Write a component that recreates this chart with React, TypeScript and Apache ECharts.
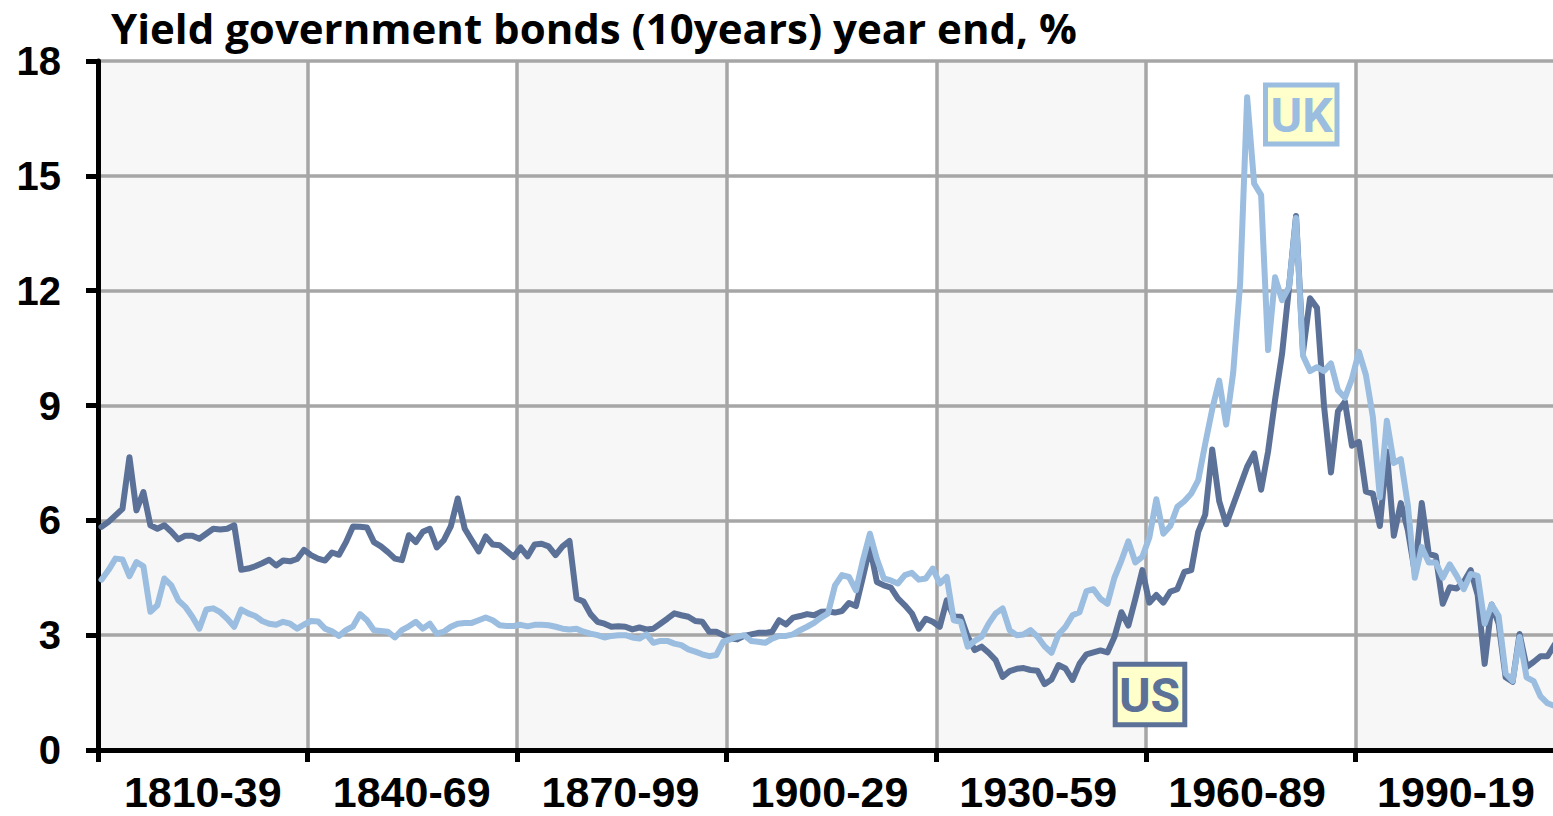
import React, { useEffect, useRef } from "react";
import * as echarts from "echarts";

// Year-end 10-year government bond yields, %, one value per year from 1810 to 2018
const startYear = 1810;

const usYields = [
  5.83, 5.96, 6.13, 6.3, 7.65, 6.26, 6.74, 5.87, 5.78, 5.87,
  5.7, 5.5, 5.6, 5.6, 5.52, 5.65, 5.78, 5.76, 5.78, 5.87,
  4.71, 4.74, 4.8, 4.88, 4.97, 4.82, 4.95, 4.93, 4.99, 5.23,
  5.09, 5.0, 4.95, 5.16, 5.1, 5.43, 5.84, 5.83, 5.81, 5.43,
  5.32, 5.17, 5.0, 4.96, 5.61, 5.43, 5.7, 5.78, 5.29, 5.48,
  5.84, 6.57, 5.78, 5.48, 5.19, 5.58, 5.37, 5.35, 5.2, 5.04,
  5.29, 5.06, 5.37, 5.39, 5.32, 5.09, 5.32, 5.46, 3.96, 3.88,
  3.55, 3.35, 3.3, 3.22, 3.23, 3.22, 3.15, 3.2, 3.15, 3.17,
  3.3, 3.43, 3.57, 3.52, 3.48, 3.37, 3.35, 3.09, 3.09, 3.0,
  2.91, 2.89, 2.98, 3.02, 3.06, 3.06, 3.09, 3.39, 3.28, 3.46,
  3.5, 3.55, 3.52, 3.61, 3.62, 3.59, 3.63, 3.84, 3.76, 4.52,
  5.3, 4.39, 4.3, 4.24, 3.96, 3.78, 3.57, 3.17, 3.43, 3.35,
  3.22, 3.91, 3.48, 3.48, 2.96, 2.61, 2.7, 2.54, 2.35, 1.91,
  2.06, 2.12, 2.14, 2.09, 2.07, 1.72, 1.84, 2.22, 2.13, 1.83,
  2.25, 2.5, 2.55, 2.6, 2.55, 2.95, 3.6, 3.25, 3.95, 4.7,
  3.85, 4.05, 3.85, 4.14, 4.2, 4.65, 4.7, 5.7, 6.15, 7.85,
  6.5, 5.9, 6.4, 6.9, 7.4, 7.75, 6.8, 7.8, 9.15, 10.35,
  12.1, 13.95, 10.4, 11.8, 11.55, 9.0, 7.25, 8.85, 9.1, 7.95,
  8.05, 6.75, 6.7, 5.85, 7.8, 5.6, 6.45, 5.75, 4.65, 6.45,
  5.12, 5.07, 3.82, 4.25, 4.22, 4.39, 4.7, 4.05, 2.25, 3.8,
  3.3, 1.9, 1.78, 3.03, 2.17, 2.3, 2.45, 2.45, 2.75,
];

const ukYields = [
  4.45, 4.7, 5.0, 4.98, 4.54, 4.91, 4.8, 3.61, 3.78, 4.48,
  4.3, 3.91, 3.74, 3.48, 3.17, 3.67, 3.7, 3.6, 3.43, 3.22,
  3.67, 3.57, 3.5, 3.37, 3.3, 3.27, 3.35, 3.3, 3.17, 3.28,
  3.37, 3.36, 3.17, 3.1, 2.98, 3.13, 3.23, 3.55, 3.39, 3.13,
  3.11, 3.09, 2.94, 3.13, 3.23, 3.35, 3.17, 3.3, 3.04, 3.09,
  3.22, 3.3, 3.32, 3.32, 3.39, 3.46, 3.39, 3.26, 3.24, 3.24,
  3.27, 3.23, 3.27, 3.27, 3.26, 3.22, 3.17, 3.15, 3.17, 3.09,
  3.04, 3.0, 2.94, 2.98, 3.0, 3.0, 2.94, 2.91, 3.02, 2.8,
  2.85, 2.85, 2.78, 2.74, 2.63, 2.57, 2.5, 2.45, 2.48, 2.83,
  2.89, 2.96, 3.0, 2.85, 2.83, 2.8, 2.91, 2.98, 2.98, 3.02,
  3.13, 3.22, 3.32, 3.46, 3.57, 4.3, 4.57, 4.52, 4.17, 4.96,
  5.65, 4.99, 4.48, 4.43, 4.35, 4.57, 4.63, 4.45, 4.48, 4.74,
  4.35, 4.52, 3.39, 3.35, 2.7, 2.85, 2.96, 3.3, 3.57, 3.7,
  3.13, 3.0, 3.02, 3.13, 2.96, 2.71, 2.54, 3.02, 3.22, 3.52,
  3.6, 4.15, 4.2, 3.95, 3.82, 4.5, 4.95, 5.45, 4.9, 5.05,
  5.55, 6.55, 5.65, 5.85, 6.35, 6.5, 6.7, 7.05, 8.0, 8.9,
  9.65, 8.5, 9.85, 12.2, 17.05, 14.8, 14.5, 10.45, 12.35, 11.75,
  12.1, 13.9, 10.3, 9.9, 10.0, 9.9, 10.1, 9.4, 9.2, 9.7,
  10.4, 9.8, 8.7, 6.6, 8.6, 7.5, 7.6, 6.4, 4.5, 5.3,
  4.9, 4.9, 4.5, 4.85, 4.55, 4.2, 4.6, 4.55, 3.3, 3.8,
  3.5, 2.0, 1.8, 2.95, 1.9, 1.8, 1.4, 1.22, 1.15,
];

// 30-year block labels on the category axis
const blockLabels = ["1810-39", "1840-69", "1870-99", "1900-29", "1930-59", "1960-89", "1990-19"];
const blockLabelPositions = [15, 44.9, 74.8, 104.7, 134.6, 164.5, 194.4];

const seriesNames = ["US", "UK"];
const US_COLOR = "#5B7197";
const UK_COLOR = "#9ABDE0";

export default function App() {
  const ref = useRef<HTMLDivElement>(null);

  useEffect(() => {
    if (!ref.current) return;
    const chart = echarts.init(ref.current, undefined, { renderer: "svg" });
    const yearCount = usYields.length;
    const toPoints = (arr: number[]) => arr.map((v, j) => [j + 0.5, v]);

    const option: any = {
      animation: false,
      backgroundColor: "#ffffff",
      title: {
        text: "Yield government bonds (10years) year end, %",
        left: 106,
        top: 1,
        textStyle: {
          fontFamily: "Open Sans",
          fontWeight: "bold",
          fontSize: 42,
          color: "#000000",
        },
      },
      grid: { left: 98, top: 61, width: 1460, height: 689, containLabel: false },
      xAxis: {
        type: "value",
        min: 0,
        max: yearCount,
        interval: 30,
        z: 0,
        axisLine: { show: true, onZero: false, lineStyle: { color: "#000000", width: 5 } },
        axisTick: { show: true, length: 12, lineStyle: { color: "#000000", width: 5 } },
        axisLabel: {
          customValues: blockLabelPositions,
          formatter: (v: number) => {
            const k = Math.round((v - 15) / 30);
            return blockLabels[k] ?? "";
          },
          fontFamily: "Liberation Sans",
          fontWeight: "bold",
          fontSize: 43,
          lineHeight: 36,
          color: "#000000",
          margin: 24,
        },
        splitLine: { show: true, lineStyle: { color: "#A6A6A6", width: 3.5 } },
        splitArea: { show: true, areaStyle: { color: ["#F7F7F7", "#FFFFFF"] } },
      },
      yAxis: {
        type: "value",
        min: 0,
        max: 18,
        interval: 3,
        z: 1,
        axisLine: { show: true, lineStyle: { color: "#000000", width: 5 } },
        axisTick: { show: true, length: 12, lineStyle: { color: "#000000", width: 5 } },
        axisLabel: {
          fontFamily: "Liberation Sans",
          fontWeight: "bold",
          fontSize: 40,
          color: "#000000",
          margin: 37,
        },
        splitLine: { show: true, showMinLine: false, lineStyle: { color: "#A6A6A6", width: 3.5 } },
      },
      series: [
        {
          name: seriesNames[0],
          type: "line",
          data: toPoints(usYields),
          symbol: "none",
          lineStyle: { color: US_COLOR, width: 6, join: "round", cap: "round" },
          z: 3,
        },
        {
          name: seriesNames[1],
          type: "line",
          data: toPoints(ukYields),
          symbol: "none",
          lineStyle: { color: UK_COLOR, width: 6, join: "round", cap: "round" },
          z: 4,
        },
      ],
      graphic: [
        {
          type: "rect",
          shape: { x: 1265.5, y: 85, width: 71.5, height: 59 },
          style: { fill: "#FFFFCC", stroke: UK_COLOR, lineWidth: 5 },
          z: 100,
        },
        {
          type: "text",
          x: 1301.7,
          y: 115,
          style: {
            text: seriesNames[1],
            fill: UK_COLOR,
            font: 'bold 48px Roboto, "Liberation Sans", sans-serif',
            textAlign: "center",
            textVerticalAlign: "middle",
          },
          z: 101,
        },
        {
          type: "rect",
          shape: { x: 1115.2, y: 664.2, width: 69.6, height: 60.6 },
          style: { fill: "#FFFFCC", stroke: US_COLOR, lineWidth: 5 },
          z: 100,
        },
        {
          type: "text",
          x: 1149.5,
          y: 695.5,
          style: {
            text: seriesNames[0],
            fill: US_COLOR,
            font: 'bold 48px Roboto, "Liberation Sans", sans-serif',
            textAlign: "center",
            textVerticalAlign: "middle",
          },
          z: 101,
        },
      ],
    };

    chart.setOption(option);
    return () => chart.dispose();
  }, []);

  return (
    <div
      style={{
        position: "fixed",
        left: 0,
        top: 0,
        width: "1553px",
        height: "816px",
        overflow: "hidden",
        background: "#ffffff",
      }}
    >
      <div ref={ref} style={{ width: "1560px", height: "816px" }} />
    </div>
  );
}
